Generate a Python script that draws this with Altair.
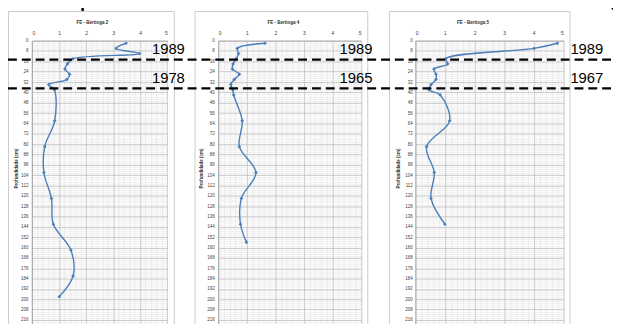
import altair as alt
import pandas as pd

# ---------------- data ----------------
depth_b2 = [2, 6, 10, 14, 18, 22, 26, 30, 34, 38, 62, 82, 102, 122, 142, 162, 182, 198]
fe_b2 = [3.48, 3.11, 3.98, 1.52, 1.31, 1.22, 1.39, 1.29, 0.62, 0.83, 0.84, 0.47, 0.44, 0.72, 0.79, 1.44, 1.52, 1.01]

depth_b4 = [2, 6, 10, 14, 18, 22, 26, 30, 34, 38, 42, 62, 82, 102, 122, 142, 156]
fe_b4 = [1.64, 0.67, 0.71, 0.63, 0.52, 0.50, 0.74, 0.56, 0.44, 0.51, 0.54, 0.84, 0.74, 1.32, 0.81, 0.78, 0.99]

depth_b5 = [2, 6, 14, 18, 22, 26, 30, 34, 38, 42, 62, 82, 102, 122, 142]
fe_b5 = [4.80, 4.01, 1.03, 1.09, 0.63, 0.70, 0.70, 0.53, 0.46, 0.84, 1.16, 0.38, 0.64, 0.53, 1.00]

panel_titles = ["FE - Bertioga 2", "FE - Bertioga 4", "FE - Bertioga 5"]
y_title = "Profundidade (cm)"
years_top = ["1989", "1989", "1989"]
years_bottom = ["1978", "1965", "1967"]
dash_depths = [14.7, 36.9]
x_ticks = [0, 1, 2, 3, 4, 5]
y_ticks = [0, 8, 16, 24, 32, 40, 48, 56, 64, 72, 80, 88, 96, 104, 112, 120, 128,
           136, 144, 152, 160, 168, 176, 184, 192, 200, 208, 216]
x_minor = [i / 5 for i in range(26)]
y_minor = [i * 1.6 for i in range(146)]
slide_text = "Cronologia do ²¹⁰Pb para este testemunho com estas datas e a granulometria"

series = [(depth_b2, fe_b2), (depth_b4, fe_b4), (depth_b5, fe_b5)]

# ---------------- layout (pixels) ----------------
W, H = 613, 316
Y0 = 31.0
PXCM = 1.31
YMAX = 232
yrange = [Y0, Y0 + YMAX * PXCM]
xranges = [(24.3, 161.3), (213.0, 357.7), (412.7, 562.7)]
boxes = [(0, 168), (189, 364), (386, 569)]
title_x = [85, 278.5, 470.7]
ytitle_x = [9, 196, 396]
ylab_pad = [4, 4, 3]
year_x = [162.5, 352.5, 586.5]

LINE = "#4a7ebb"
FONT = "Liberation Sans"

layers = []

# panel frames
for (bx0, bx1) in boxes:
    layers.append(
        alt.Chart(pd.DataFrame({"k": [0]})).mark_rect(
            fill=None, stroke="#cccccc", strokeWidth=1
        ).encode(x=alt.value(bx0 + 0.5), x2=alt.value(bx1 + 0.5),
                 y=alt.value(1.5), y2=alt.value(H + 20))
    )

for i, (dep, fe) in enumerate(series):
    df = pd.DataFrame({"depth": dep, "fe": fe})
    a, b = xranges[i]
    xs = alt.Scale(domain=[0, 5], range=[a, b], nice=False, zero=False)
    ys = alt.Scale(domain=[0, YMAX], range=yrange, nice=False, zero=False)

    minor = alt.Chart(df).mark_point(opacity=0).encode(
        x=alt.X("fe:Q", scale=xs, axis=alt.Axis(
            orient="top", offset=-Y0, values=x_minor, grid=True,
            gridColor="#e4e4e4", gridWidth=0.6, labels=False, ticks=False,
            domain=False, title=None)),
        y=alt.Y("depth:Q", scale=ys, axis=alt.Axis(
            orient="left", offset=-a, values=y_minor, grid=True,
            gridColor="#e4e4e4", gridWidth=0.6, labels=False, ticks=False,
            domain=False, title=None)),
    )

    line = alt.Chart(df).mark_line(
        interpolate="catmull-rom", color=LINE, strokeWidth=1.4
    ).encode(
        x=alt.X("fe:Q", scale=xs, axis=alt.Axis(
            orient="top", offset=-Y0, values=x_ticks, grid=True,
            gridColor="#b8b8b8", gridWidth=0.7, ticks=False,
            domain=True, domainColor="#a0a0a0", domainWidth=0.8,
            labelFont=FONT, labelFontSize=5, labelColor="#404040",
            labelPadding=5, title=panel_titles[i], titleFont=FONT,
            titleFontSize=4.6, titleFontWeight="bold", titleColor="#303030",
            titleX=title_x[i], titleY=-18.5, titleBaseline="middle",
            titleAnchor="middle")),
        y=alt.Y("depth:Q", scale=ys, axis=alt.Axis(
            orient="left", offset=-a, values=y_ticks, grid=True,
            gridColor="#b8b8b8", gridWidth=0.7, ticks=False,
            domain=True, domainColor="#a0a0a0", domainWidth=0.8,
            labelFont=FONT, labelFontSize=4.6, labelColor="#404040",
            labelPadding=ylab_pad[i], title=y_title, titleFont=FONT,
            titleFontSize=4.6, titleFontWeight="bold", titleColor="#303030",
            titleX=ytitle_x[i] - a, titleY=160, titleBaseline="middle",
            titleAngle=270)),
        order=alt.Order("depth:Q"),
    )

    pts = alt.Chart(df).mark_point(
        shape="diamond", filled=True, color=LINE, size=14, opacity=1
    ).encode(
        x=alt.X("fe:Q", scale=xs, axis=None),
        y=alt.Y("depth:Q", scale=ys, axis=None),
    )
    layers += [minor, line, pts]

# dashed date lines across the slide
dash = alt.Chart(pd.DataFrame({"depth": dash_depths})).mark_rule(
    color="black", strokeWidth=2.4, strokeDash=[9, 5]
).encode(
    y=alt.Y("depth:Q", scale=alt.Scale(domain=[0, YMAX], range=yrange, nice=False, zero=False), axis=None),
    x=alt.value(0), x2=alt.value(W),
)
layers.append(dash)

# year labels
for i in range(3):
    for txt, yy in ((years_top[i], 39.7), (years_bottom[i], 69.2)):
        layers.append(
            alt.Chart(pd.DataFrame({"t": [txt]})).mark_text(
                font=FONT, fontSize=15, color="black", align="center", baseline="middle"
            ).encode(x=alt.value(year_x[i]), y=alt.value(yy), text="t:N")
        )

# slide heading (only its lowest part falls in view)
layers.append(
    alt.Chart(pd.DataFrame({"t": [slide_text]})).mark_text(
        font=FONT, fontSize=28, color="black", align="center", baseline="alphabetic"
    ).encode(x=alt.value(300), y=alt.value(-5), text="t:N")
)

chart = alt.layer(*layers).resolve_scale(
    x="independent", y="independent"
).properties(
    width=W, height=H, autosize=alt.AutoSizeParams(type="none"), padding=0,
    background="white"
).configure_view(strokeWidth=0)

chart.save("out.html", embed_options={"renderer": "svg", "actions": False})
